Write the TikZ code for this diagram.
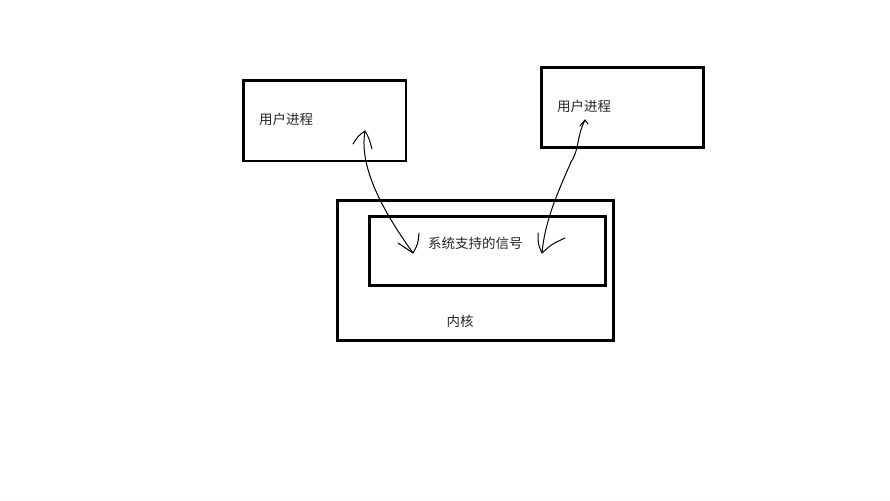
\documentclass[tikz,border=0pt]{standalone}
\usepackage{fontspec}
\newfontfamily\cjk{Noto Sans CJK SC}
\begin{document}
\begin{tikzpicture}[x=1pt,y=-1pt,
  boxnode/.style={draw=black,line width=2.6pt,inner sep=0pt,fill=none},
  lbl/.style={font=\cjk\fontsize{13.5}{16}\selectfont,inner sep=0pt,text=black!85},
  sig/.style={line width=1pt,line cap=round,line join=round}]
\useasboundingbox (0,0) rectangle (890,500);
\fill[white] (0,0) rectangle (890,500);
\fill[black!3] (0,498.5) rectangle (890,500);
% boxes
\node[boxnode,minimum width=162.5pt,minimum height=80.5pt] (p1) at (324.75,120.75) {};
\node[boxnode,minimum width=162pt,minimum height=80pt] (p2) at (622.5,107.5) {};
\node[boxnode,minimum width=276pt,minimum height=140pt] (kernel) at (475.5,270.5) {};
\node[boxnode,minimum width=236pt,minimum height=69pt] (sigbox) at (487.5,251) {};
% labels
\node[lbl,anchor=west] (t1) at (259,119) {用户进程};
\node[lbl,anchor=west] (t2) at (557,106) {用户进程};
\node[lbl,anchor=west] (t3) at (428,243) {系统支持的信号};
\node[lbl] (t4) at (460,321) {内核};
% connector end points
\coordinate (a1) at (365,131);
\coordinate (a2) at (413,253);
\coordinate (b1) at (585,120);
\coordinate (b2) at (542,253);
\coordinate (bm) at (571,162);
\draw[sig] (a1) .. controls (358,170) and (388,218) .. (a2);
\draw[sig] (b1) .. controls (576,138) and (580,148) .. (bm)
  .. controls (558,192) and (545,220) .. (b2);
% hand-drawn barbs
\draw[sig] (353,144) .. controls (358,136) .. (a1) .. controls (369,138) .. (372,149);
\draw[sig] (398,243) .. controls (406,248) .. (a2) .. controls (418,244) .. (419,233);
\draw[sig] (580,126) -- (b1) -- (588,124);
\draw[sig] (538,233) .. controls (538,244) .. (b2) .. controls (552,244) .. (565,238);
\end{tikzpicture}
\end{document}
